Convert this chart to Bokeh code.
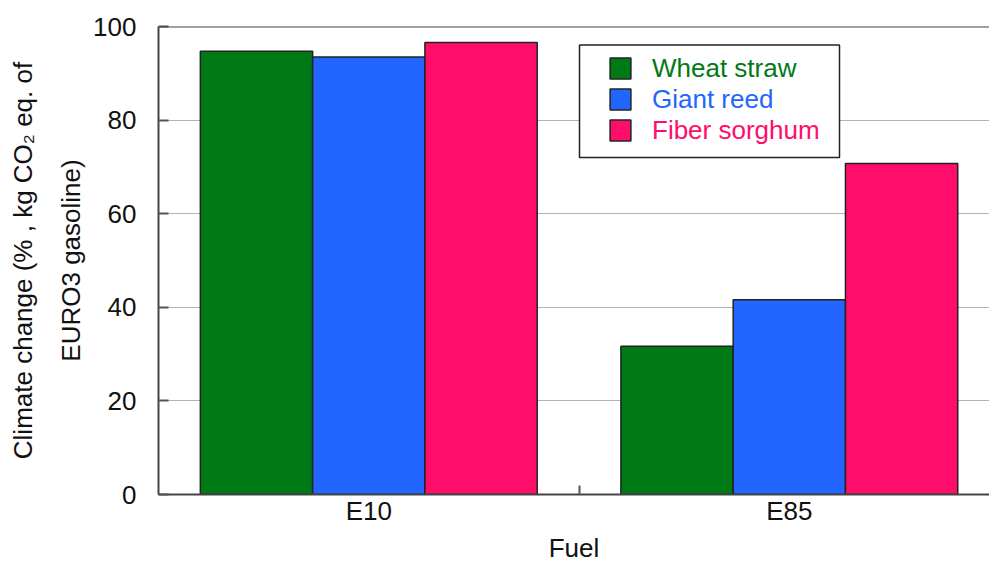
from bokeh.plotting import figure
from bokeh.models import (Range1d, FixedTicker, Span, Legend, LegendItem,
                          BoxAnnotation, ColumnDataSource)
from bokeh.embed import file_html
from bokeh.resources import INLINE

# Data
fuels = ["E10", "E85"]
feedstocks = ["Wheat straw", "Giant reed", "Fiber sorghum"]
wheat_straw = [94.7, 31.7]
giant_reed = [93.5, 41.6]
fiber_sorghum = [96.6, 70.7]
colors = ["#007a14", "#2266ff", "#ff0d6b"]
y_ticks = [0, 20, 40, 60, 80, 100]

FONT = "Liberation Sans"
series = [wheat_straw, giant_reed, fiber_sorghum]
bar_w = 0.267
offsets = [-bar_w, 0.0, bar_w]
centers = [i + 0.5 for i in range(len(fuels))]

p = figure(width=989, height=565, output_backend="svg", toolbar_location=None,
           x_range=Range1d(0, 1.976), y_range=Range1d(0, 100),
           min_border_left=158, min_border_top=26, min_border_bottom=70,
           min_border_right=0)
p.outline_line_color = None
p.background_fill_color = "white"

renderers = []
for vals, off, col in zip(series, offsets, colors):
    src = ColumnDataSource(dict(x=[c + off for c in centers], top=vals))
    r = p.vbar(x="x", top="top", bottom=0, width=bar_w, source=src,
               fill_color=col, line_color="#222222", line_width=1.5)
    renderers.append(r)

# top border of the frame
p.add_layout(Span(location=100, dimension="width", line_color="#444444",
                  line_width=2))

# axes
xa = p.xaxis[0]
xa.ticker = FixedTicker(ticks=centers, minor_ticks=[1.0])
xa.major_label_overrides = {c: f for c, f in zip(centers, fuels)}
xa.major_tick_line_color = None
xa.major_tick_in = 0
xa.major_tick_out = 0
xa.minor_tick_in = 9
xa.minor_tick_out = 0
xa.minor_tick_line_color = "#555555"
xa.minor_tick_line_width = 2
xa.axis_label = "Fuel"

ya = p.yaxis[0]
ya.ticker = FixedTicker(ticks=y_ticks)
ya.minor_tick_line_color = None
ya.minor_tick_in = 0
ya.minor_tick_out = 0
ya.major_tick_in = 10
ya.major_tick_out = 0
ya.major_tick_line_color = "#555555"
ya.major_tick_line_width = 2
ya.axis_label = "Climate change (% , kg CO\u2082 eq. of\nEURO3 gasoline)"

for ax in (xa, ya):
    ax.axis_line_color = "#444444"
    ax.axis_line_width = 2
    ax.major_label_text_font = FONT
    ax.major_label_text_font_size = "26px"
    ax.major_label_text_color = "#111111"
    ax.axis_label_text_font = FONT
    ax.axis_label_text_font_size = "26px"
    ax.axis_label_text_font_style = "normal"
    ax.axis_label_text_color = "#111111"

xa.major_label_standoff = 1
xa.axis_label_standoff = 4
ya.major_label_standoff = 22
ya.axis_label_standoff = 4
ya.axis_label_text_line_height = 1.6

# grid
p.xgrid.grid_line_color = None
p.ygrid.ticker = FixedTicker(ticks=[20, 40, 60, 80])
p.ygrid.grid_line_color = "#666666"
p.ygrid.grid_line_dash = "1 1"
p.ygrid.grid_line_width = 1

# legend frame
box = BoxAnnotation(left=421, right=681, top=449.5, bottom=337,
                    left_units="screen", right_units="screen",
                    top_units="screen", bottom_units="screen",
                    fill_color="white", fill_alpha=1.0,
                    line_color="#222222", line_width=1.5, line_alpha=1.0,
                    editable=False)
p.add_layout(box)

# one legend per feedstock, each label in its series colour
tops = [58, 89, 120]
for name, r, col, t in zip(feedstocks, renderers, colors, tops):
    lg = Legend(items=[LegendItem(label=name, renderers=[r])],
                location=(449, 494.5 - (t + 26)),
                padding=0, margin=0, spacing=0,
                glyph_width=26, glyph_height=26, label_height=26,
                label_standoff=19,
                label_text_font=FONT, label_text_font_size="26px",
                label_text_color=col, label_text_line_height=1.0,
                border_line_alpha=0, background_fill_alpha=0)
    p.add_layout(lg)

open("out.html", "w").write(file_html(p, INLINE))
